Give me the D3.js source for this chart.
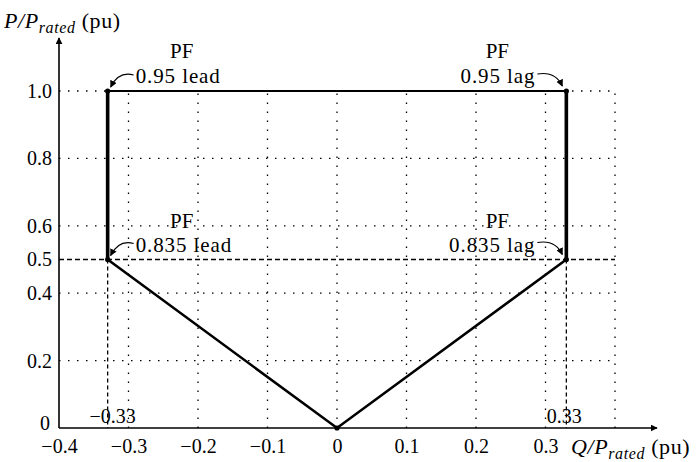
<!DOCTYPE html>
<html>
<head>
<meta charset="utf-8" />
<title>PF capability chart</title>
<script src="https://d3js.org/d3.v7.min.js"></script>
<style>
  body { margin: 0; background: #fff; }
  svg text { font-family: "Liberation Serif", "Times New Roman", Times, serif; fill: #000; }
</style>
</head>
<body>
<div id="chart"></div>
<script>
  // tick values
  var xTicks = [-0.4, -0.3, -0.2, -0.1, 0, 0.1, 0.2, 0.3];
  var yTicks = [0, 0.2, 0.4, 0.5, 0.6, 0.8, 1.0];
  var xGrid = [-0.3, -0.2, -0.1, 0, 0.1, 0.2, 0.3, 0.4];
  var yGrid = [0.2, 0.4, 0.6, 0.8, 1.0];

  // operating boundary (Q, P)
  var boundaryQ = [-0.33, 0.33, 0.33, 0, -0.33];
  var boundaryP = [1.0, 1.0, 0.5, 0, 0.5];

  // pf corner labels
  var pfNames = ["0.95 lead", "0.95 lag", "0.835 lead", "0.835 lag"];
  var pfQ = [-0.33, 0.33, -0.33, 0.33];
  var pfP = [1.0, 1.0, 0.5, 0.5];

  const w = 696, h = 462;
  const font = '"Liberation Serif", "Times New Roman", Times, serif';
  const x = d3.scaleLinear().domain([-0.4, 0.4]).range([59, 615]);
  const y = d3.scaleLinear().domain([0, 1]).range([428, 91]);

  let svg = d3.select('#chart').append('svg')
    .attr('width', w).attr('height', h);

  let defs = svg.append('defs');
  defs.append('marker')
    .attr('id', 'tip').attr('viewBox', '0 0 10 10')
    .attr('refX', 9).attr('refY', 5)
    .attr('markerWidth', 7).attr('markerHeight', 7)
    .attr('markerUnits', 'userSpaceOnUse')
    .attr('orient', 'auto')
    .append('path').attr('d', 'M0,0 L10,5 L0,10 Z').attr('fill', '#000');

  // grid
  svg.selectAll('.vgrid').data(xGrid).enter().append('line')
    .attr('x1', d => x(d)).attr('x2', d => x(d))
    .attr('y1', y(0)).attr('y2', y(1))
    .attr('stroke', '#000').attr('stroke-width', 1.3)
    .attr('stroke-dasharray', '1.5,7.5');

  svg.selectAll('.hgrid').data(yGrid).enter().append('line')
    .attr('x1', x(-0.4)).attr('x2', x(0.4))
    .attr('y1', d => y(d)).attr('y2', d => y(d))
    .attr('stroke', '#000').attr('stroke-width', 1.3)
    .attr('stroke-dasharray', '1.5,7.5');

  // dashed 0.5 line and the ±0.33 drops
  svg.append('line')
    .attr('x1', x(-0.4)).attr('x2', x(0.4))
    .attr('y1', y(0.5)).attr('y2', y(0.5))
    .attr('stroke', '#000').attr('stroke-width', 1.6)
    .attr('stroke-dasharray', '5,3');

  svg.selectAll('.drop').data([-0.33, 0.33]).enter().append('line')
    .attr('x1', d => x(d)).attr('x2', d => x(d))
    .attr('y1', y(0.5)).attr('y2', y(0))
    .attr('stroke', '#000').attr('stroke-width', 1.3)
    .attr('stroke-dasharray', '4,3');

  // boundary
  let pts = boundaryQ.map((q, i) => [x(q), y(boundaryP[i])]);
  svg.append('path')
    .attr('d', d3.line()([pts[2], pts[3], pts[4]]))
    .attr('fill', 'none').attr('stroke', '#000').attr('stroke-width', 2.6);
  svg.append('path')
    .attr('d', d3.line()([pts[0], pts[1]]))
    .attr('fill', 'none').attr('stroke', '#000').attr('stroke-width', 2.2);
  svg.append('path')
    .attr('d', d3.line()([pts[4], pts[0]]))
    .attr('fill', 'none').attr('stroke', '#000').attr('stroke-width', 3.6);
  svg.append('path')
    .attr('d', d3.line()([pts[1], pts[2]]))
    .attr('fill', 'none').attr('stroke', '#000').attr('stroke-width', 3.6);
  svg.selectAll('.corner').data(pts).enter().append('circle')
    .attr('cx', d => d[0]).attr('cy', d => d[1]).attr('r', 2.6);

  // axes with arrows
  svg.append('line')
    .attr('x1', x(-0.4)).attr('x2', x(-0.4))
    .attr('y1', y(0)).attr('y2', 38)
    .attr('stroke', '#000').attr('stroke-width', 1.6)
    .attr('marker-end', 'url(#tip)');
  svg.append('line')
    .attr('x1', x(-0.4)).attr('x2', 657)
    .attr('y1', y(0)).attr('y2', y(0))
    .attr('stroke', '#000').attr('stroke-width', 1.6)
    .attr('marker-end', 'url(#tip)');

  // tick labels through d3 axes
  let fmt = d => d === 0 ? '0' : d3.format('.1f')(d);
  let xAxis = svg.append('g')
    .attr('transform', 'translate(0,' + y(0) + ')')
    .call(d3.axisBottom(x).tickValues(xTicks).tickFormat(fmt).tickSize(0).tickPadding(11));
  let yAxis = svg.append('g')
    .attr('transform', 'translate(' + (x(-0.4) - 7) + ',0)')
    .call(d3.axisLeft(y).tickValues(yTicks).tickFormat(fmt).tickSize(0).tickPadding(0));
  [xAxis, yAxis].forEach(a => {
    a.attr('font-family', null).attr('font-size', null);
    a.select('.domain').remove();
    a.selectAll('text')
      .style('font-family', font)
      .style('font-size', '20px').attr('fill', '#000');
  });
  yAxis.selectAll('text').attr('dy', '0.32em');
  // keep "0" of the y axis clear of the "−0.4" below it
  yAxis.selectAll('text').filter(d => d === 0).attr('dy', '0.05em').attr('x', -2);

  // axis titles
  function axisTitle(tx, ty, letter) {
    let t = svg.append('text').attr('x', tx).attr('y', ty)
      .style('font-size', '22px').style('letter-spacing', '0.6px');
    t.append('tspan').text(letter + '/P').style('font-style', 'italic');
    t.append('tspan').text('rated').attr('dy', 5).style('font-style', 'italic').style('font-size', '16px');
    t.append('tspan').text(' (pu)').attr('dy', -5);
  }
  axisTitle(4, 28, 'P');
  axisTitle(571, 454, 'Q');

  // ±0.33 labels
  svg.selectAll('.qlab').data([-0.33, 0.33]).enter().append('text')
    .attr('x', d => x(d) + (d < 0 ? 5 : -2))
    .attr('y', 423)
    .attr('text-anchor', 'middle')
    .style('font-size', '20px')
    .text(d => d3.format('.2f')(d));

  // PF labels with curved arrows
  let ann = pfNames.map((name, i) => ({
    name: name, q: pfQ[i], p: pfP[i],
    left: pfQ[i] < 0, top: pfP[i] > 0.7
  }));
  let g = svg.selectAll('.ann').data(ann).enter().append('g');
  g.append('text')
    .attr('x', d => d.left ? x(d.q) + 74 : x(d.q) - 69)
    .attr('y', d => y(d.p) - (d.top ? 33 : 32))
    .attr('text-anchor', 'middle')
    .style('font-size', '21px')
    .text('PF');
  g.append('text')
    .attr('x', d => d.left ? x(d.q) + 28 : x(d.q) - 31)
    .attr('y', d => y(d.p) - 8)
    .attr('text-anchor', d => d.left ? 'start' : 'end')
    .style('font-size', '21px')
    .style('letter-spacing', '0.9px')
    .text(d => d.name);
  g.append('path')
    .attr('d', d => {
      let cx = x(d.q), cy = y(d.p);
      if (d.left) {
        return 'M' + (cx + 26) + ',' + (cy - 16) +
          ' Q' + (cx + 11) + ',' + (cy - 20) + ' ' + (cx + 3) + ',' + (cy - 4);
      }
      return 'M' + (cx - 29) + ',' + (cy - 17) +
        ' Q' + (cx - 11) + ',' + (cy - 20) + ' ' + (cx - 4) + ',' + (cy - 5);
    })
    .attr('fill', 'none').attr('stroke', '#000').attr('stroke-width', 1.2)
    .attr('marker-end', 'url(#tip)');
</script>
</body>
</html>
